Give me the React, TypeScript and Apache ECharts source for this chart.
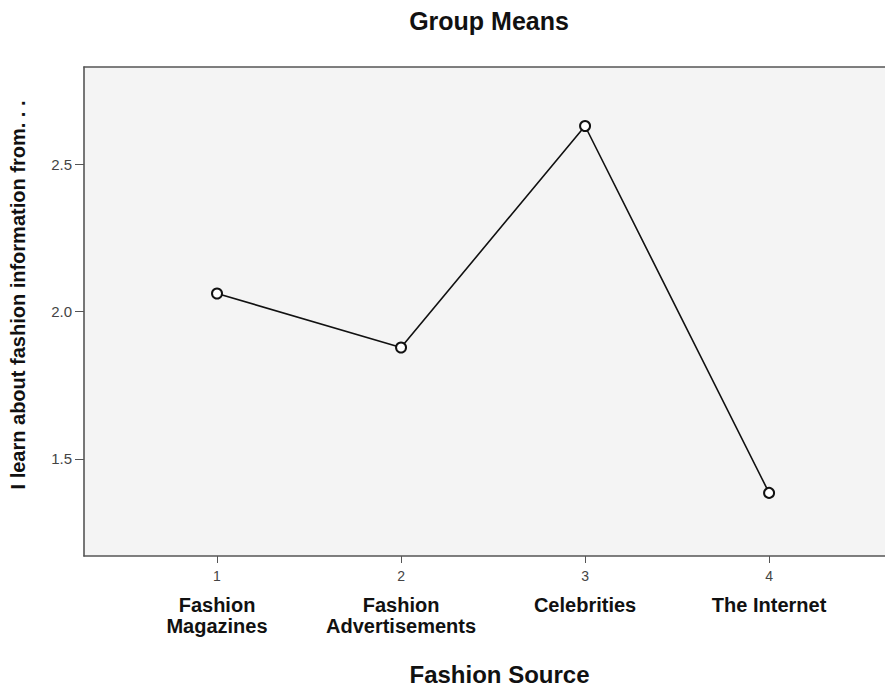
import React, { useEffect, useRef } from "react";
import * as echarts from "echarts";

const categories = ["Fashion\nMagazines", "Fashion\nAdvertisements", "Celebrities", "The Internet"];
const xPositions = [1, 2, 3, 4];
const means = [2.061, 1.878, 2.629, 1.385];
const yTicks = [1.5, 2.0, 2.5];

export default function App() {
  const ref = useRef<HTMLDivElement>(null);
  useEffect(() => {
    document.body.style.margin = "0";
    const chart = echarts.init(ref.current!, null, { renderer: "svg" });
    const font = "'Liberation Sans', Arial, sans-serif";
    const axisLineStyle = { color: "#555", width: 1.6 };
    chart.setOption({
      animation: false,
      backgroundColor: "#ffffff",
      title: {
        text: "Group Means",
        left: 484,
        top: 3,
        textAlign: "center",
        textStyle: { fontFamily: font, fontSize: 25, fontWeight: "bold", color: "#111" },
      },
      grid: {
        left: 84,
        top: 67,
        height: 489,
        right: -30,
        outerBoundsMode: "none",
        containLabel: false,
        show: false,
      },
      xAxis: [
        {
          type: "value",
          position: "bottom",
          min: 0.2772,
          max: 4.793,
          splitLine: { show: false },
          axisLine: { show: true, onZero: false, lineStyle: axisLineStyle },
          axisTick: { show: true, length: 7, lineStyle: { color: "#555" }, customValues: xPositions },
          axisLabel: {
            customValues: xPositions,
            margin: 1,
            color: "#111",
            fontFamily: font,
            formatter: (v: number) => {
              const i = xPositions.indexOf(Math.round(v));
              const lines = categories[i].split("\n").map((l) => `{c|${l}}`).join("\n");
              return `{n|${Math.round(v)}}\n${lines}`;
            },
            rich: {
              n: { fontFamily: font, fontSize: 14, color: "#444", lineHeight: 37 },
              c: { fontFamily: font, fontSize: 20, fontWeight: "bold", color: "#111", lineHeight: 21 },
            },
          },
          name: "Fashion Source",
          nameLocation: "middle",
          nameGap: 106,
          nameTextStyle: { fontFamily: font, fontSize: 24, fontWeight: "bold", color: "#111" },
        },
        {
          type: "value",
          position: "top",
          min: 0.2772,
          max: 4.793,
          splitLine: { show: false },
          axisLine: { show: true, onZero: false, lineStyle: axisLineStyle },
          axisTick: { show: false },
          axisLabel: { show: false },
        },
      ],
      yAxis: {
        type: "value",
        min: 1.171,
        max: 2.829,
        splitLine: { show: false },
        axisLine: { show: true, onZero: false, lineStyle: axisLineStyle },
        axisTick: { show: true, length: 9, lineStyle: { color: "#555" }, customValues: yTicks },
        axisLabel: {
          customValues: yTicks,
          fontFamily: font,
          fontSize: 15,
          color: "#444",
          margin: 12,
          formatter: (v: number) => v.toFixed(1),
        },
      },
      graphic: [
        {
          type: "rect",
          z: -10,
          silent: true,
          shape: { x: 84, y: 67, width: 900, height: 489 },
          style: { fill: "#f4f4f4" },
        },
        {
          type: "text",
          x: 18,
          y: 295,
          rotation: Math.PI / 2,
          style: {
            text: "I learn about fashion information from. . .",
            font: `bold 20px ${font}`,
            fill: "#111",
            textAlign: "center",
            textVerticalAlign: "middle",
          },
        },
      ],
      series: [
        {
          type: "line",
          xAxisIndex: 0,
          data: xPositions.map((x, i) => [x, means[i]]),
          symbol: "emptyCircle",
          symbolSize: 10,
          lineStyle: { color: "#111", width: 1.6 },
          itemStyle: { color: "#111", borderColor: "#111", borderWidth: 1.2 },
        },
      ],
    });
    return () => chart.dispose();
  }, []);
  return <div ref={ref} style={{ width: 885, height: 686 }} />;
}
